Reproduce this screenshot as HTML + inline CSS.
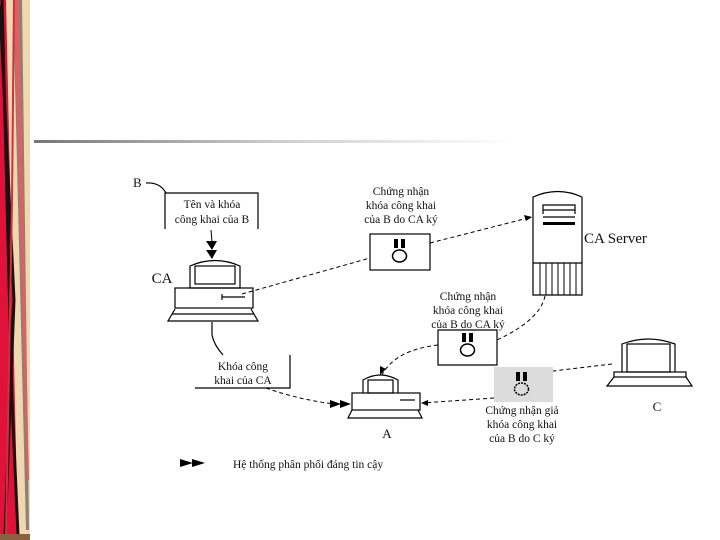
<!DOCTYPE html>
<html><head><meta charset="utf-8"><style>
html,body{margin:0;padding:0;background:#fff}
svg{display:block}
text{font-family:"Liberation Serif","DejaVu Serif",serif;fill:#111}
</style></head><body>
<svg width="720" height="540" viewBox="0 0 720 540" xmlns="http://www.w3.org/2000/svg">
<defs><linearGradient id="g" x1="0" x2="1" y1="0" y2="0"><stop offset="0" stop-color="#777"/><stop offset="0.5" stop-color="#ccc"/><stop offset="1" stop-color="#fff"/></linearGradient></defs>
<rect width="720" height="540" fill="#fff"/>
<!-- left decorative border -->
<rect x="0" y="0" width="30" height="540" fill="#f0d7b0"/>
<polygon points="0,0 6,0 18,540 0,540" fill="#e0123a"/>
<polygon points="13,0 22,0 29,530 26,530" fill="#8c8078"/>
<polygon points="14,0 19,0 29,480 27,480" fill="#e06060"/>
<polyline points="0,5 14,300 5,535" stroke="#1a1010" stroke-width="3" fill="none"/>
<polyline points="2,0 12,400 18,535" stroke="#1a1010" stroke-width="3" fill="none"/>
<polyline points="14,0 12,200 6,535" stroke="#d03040" stroke-width="2" fill="none"/>
<rect x="0" y="534" width="30" height="6" fill="#8a6040"/>
<!-- top gray line -->
<rect x="34" y="140" width="480" height="3" fill="url(#g)"/>

<g fill="none" stroke="#000" stroke-width="1.2">
<path d="M146,183 Q160,182 166,193"/>
<path d="M165,229 V193 H258 V229"/>
<path d="M190,288 V266 Q215,255 240,266 V288 Z"/>
<rect x="195" y="266" width="40" height="18"/>
<rect x="175" y="288" width="78" height="20"/>
<line x1="222" y1="297" x2="245" y2="297"/><line x1="222" y1="294" x2="222" y2="300"/>
<path d="M175,309 L168,321 H258 L251,309"/>
<line x1="172" y1="314" x2="254" y2="314"/>
<path d="M212,322 V335 Q214,345 223,355"/>
<path d="M195,388 H290 V355"/>
<rect x="370" y="234" width="60" height="36"/>
<path d="M438,330 H497 V365 H438 Z"/>
<path d="M533,295 V197 Q558,186 582,197 V295 Z"/>
<line x1="533" y1="263" x2="582" y2="263"/>
<path d="M543,214 V205 H575 V214 M543,210 H575 M543,217 H575"/>
<path d="M363,393 V380 Q380,370 398,380 V393"/>
<rect x="368" y="380" width="25" height="13"/>
<rect x="352" y="393" width="68" height="17"/>
<line x1="400" y1="400" x2="415" y2="400"/>
<path d="M352,410 L348,418 H422 L418,410"/>
<path d="M622,372 V344 Q648,334 675,344 V372"/>
<rect x="627" y="344" width="43" height="28"/>
<rect x="614" y="372" width="72" height="5"/>
<path d="M614,377 L607,386 H692 L686,377"/>
</g>
<g stroke="#000" stroke-width="1">
<line x1="540" y1="263" x2="540" y2="295"/><line x1="546" y1="263" x2="546" y2="295"/><line x1="552" y1="263" x2="552" y2="295"/><line x1="558" y1="263" x2="558" y2="295"/><line x1="564" y1="263" x2="564" y2="295"/><line x1="570" y1="263" x2="570" y2="295"/><line x1="576" y1="263" x2="576" y2="295"/>
</g>
<rect x="543" y="222" width="32" height="3" fill="#000"/>
<rect x="494" y="367" width="59" height="35" fill="#dcdcdc"/>
<g>
<rect x="394" y="239" width="11" height="9" fill="#000"/><rect x="398" y="239" width="3" height="9" fill="#fff"/>
<ellipse cx="399.5" cy="256" rx="7" ry="6" fill="none" stroke="#000" stroke-width="1.5"/>
<rect x="462" y="333" width="11" height="9" fill="#000"/><rect x="466" y="333" width="3" height="9" fill="#fff"/>
<ellipse cx="467.5" cy="350" rx="7" ry="6" fill="none" stroke="#000" stroke-width="1.5"/>
<rect x="516" y="372" width="11" height="9" fill="#000"/><rect x="520" y="372" width="3" height="9" fill="#dcdcdc"/>
<ellipse cx="521.5" cy="389" rx="7" ry="6" fill="none" stroke="#000" stroke-width="1.5" stroke-dasharray="2,1"/>
</g>
<g fill="none" stroke="#000" stroke-width="1" stroke-dasharray="4,3">
<path d="M242,294 L370,258"/>
<path d="M430,243 L532,217"/>
<path d="M545,296 Q540,320 497,340"/>
<path d="M438,345 Q395,350 382,375"/>
<path d="M612,364 L553,371"/>
<path d="M494,398 L422,403"/>
<path d="M266,388 Q300,400 335,404"/>
</g>
<g fill="#000">
<polygon points="532,217 524,215 526,221"/>
<polygon points="380,375 380,366 386,369"/>
<polygon points="421,403 428,400 428,406"/>
<polygon points="206,241 217,241 212,250"/><polygon points="206,250 217,250 212,259"/><line x1="211" y1="230" x2="212" y2="242" stroke="#000"/>
<polygon points="330,400 341,404 330,408"/><polygon points="340,400 351,404 340,408"/>
<polygon points="180,459 193,463 180,467"/><polygon points="192,459 205,463 192,467"/>
</g>
<g font-size="11.5" text-anchor="middle">
<text x="133" y="187" font-size="13" text-anchor="start">B</text>
<text x="212" y="208">Tên và khóa</text>
<text x="212" y="223">công khai của B</text>
<text x="162" y="283" font-size="15">CA</text>
<text x="401" y="195">Chứng nhận</text>
<text x="401" y="209">khóa công khai</text>
<text x="401" y="223">của B do CA ký</text>
<text x="584" y="243" font-size="15" text-anchor="start">CA Server</text>
<text x="468" y="300">Chứng nhận</text>
<text x="468" y="314">khóa công khai</text>
<text x="468" y="328">của B do CA ký</text>
<text x="243" y="370">Khóa công</text>
<text x="243" y="384">khai của CA</text>
<text x="387" y="438" font-size="13">A</text>
<text x="657" y="411" font-size="13">C</text>
<text x="522" y="414">Chứng nhận giả</text>
<text x="522" y="428">khóa công khai</text>
<text x="522" y="442">của B do C ký</text>
<text x="233" y="468" text-anchor="start">Hệ thống phân phối đáng tin cậy</text>
</g>
</svg>
</body></html>
